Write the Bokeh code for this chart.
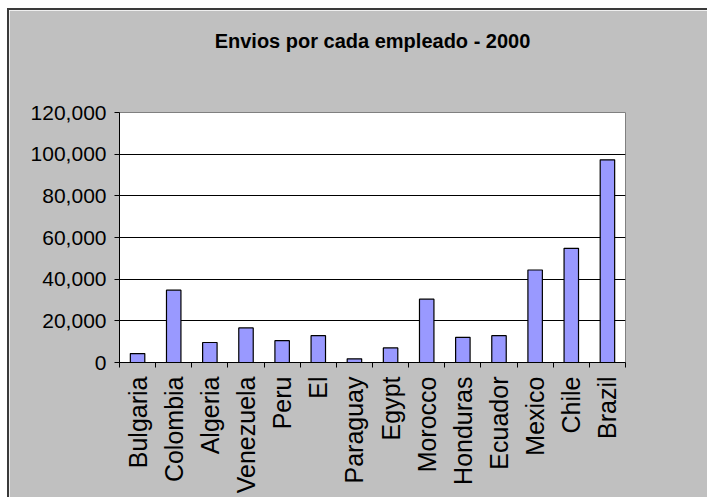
import math
from bokeh.plotting import figure
from bokeh.models import FixedTicker, NumeralTickFormatter, Range1d, Title
from bokeh.embed import file_html
from bokeh.resources import INLINE

title_text = "Envios por cada empleado - 2000"
countries = ["Bulgaria", "Colombia", "Algeria", "Venezuela", "Peru", "El",
             "Paraguay", "Egypt", "Morocco", "Honduras", "Ecuador", "Mexico",
             "Chile", "Brazil"]
envios = [4300, 34700, 9600, 16600, 10500, 12900, 1750, 7000, 30400,
          12100, 12900, 44400, 54800, 97300]
y_ticks = [0, 20000, 40000, 60000, 80000, 100000, 120000]

n = len(countries)
centers = [i + 0.5 for i in range(n)]

FONT = "Liberation Sans"
W, H = 700, 489

p = figure(width=W, height=H, output_backend="svg", toolbar_location=None,
           x_range=Range1d(0, n), y_range=Range1d(0, 120000),
           min_border_left=110, min_border_right=84, min_border_top=102,
           min_border_bottom=137)
p.margin = (8, 0, 0, 7)
p.styles = {"border-top": "2px solid #3a3a3a", "border-left": "2px solid #3a3a3a"}

p.background_fill_color = "white"
p.border_fill_color = "#C0C0C0"
p.outline_line_color = "#808080"
p.outline_line_width = 1

# spacer between title and plot area
p.add_layout(Title(text=" ", text_font=FONT, text_font_size="53px",
                   standoff=0, text_color="#C0C0C0"), "above")

p.title.text = title_text
p.title.align = "center"
p.title.text_font = FONT
p.title.text_font_style = "bold"
p.title.text_font_size = "20px"
p.title.text_color = "black"
p.title.standoff = 0

p.vbar(x=centers, top=envios, width=0.4, bottom=0,
       fill_color="#9999FF", line_color="black", line_width=1.2)

# y axis
ya = p.yaxis[0]
ya.ticker = FixedTicker(ticks=y_ticks)
ya.formatter = NumeralTickFormatter(format="0,0")
ya.major_label_text_font = FONT
ya.major_label_text_font_size = "21px"
ya.major_label_text_color = "black"
ya.axis_line_color = "black"
ya.major_tick_line_color = "black"
ya.major_tick_out = 5
ya.major_tick_in = 0
ya.minor_tick_line_color = None
ya.major_label_standoff = 8

# x axis
xa = p.xaxis[0]
xa.ticker = FixedTicker(ticks=centers, minor_ticks=list(range(n + 1)))
xa.major_label_overrides = {c: name for c, name in zip(centers, countries)}
xa.major_label_orientation = math.pi / 2
xa.major_label_text_font = FONT
xa.major_label_text_font_size = "25px"
xa.major_label_text_color = "black"
xa.axis_line_color = "black"
xa.major_tick_line_color = None
xa.minor_tick_line_color = "black"
xa.minor_tick_out = 5
xa.minor_tick_in = 0
xa.major_label_standoff = 8

p.xgrid.grid_line_color = None
p.ygrid.grid_line_color = "black"
p.ygrid.grid_line_alpha = 1.0
p.ygrid.ticker = FixedTicker(ticks=y_ticks)

open("out.html", "w").write(file_html(p, INLINE))
